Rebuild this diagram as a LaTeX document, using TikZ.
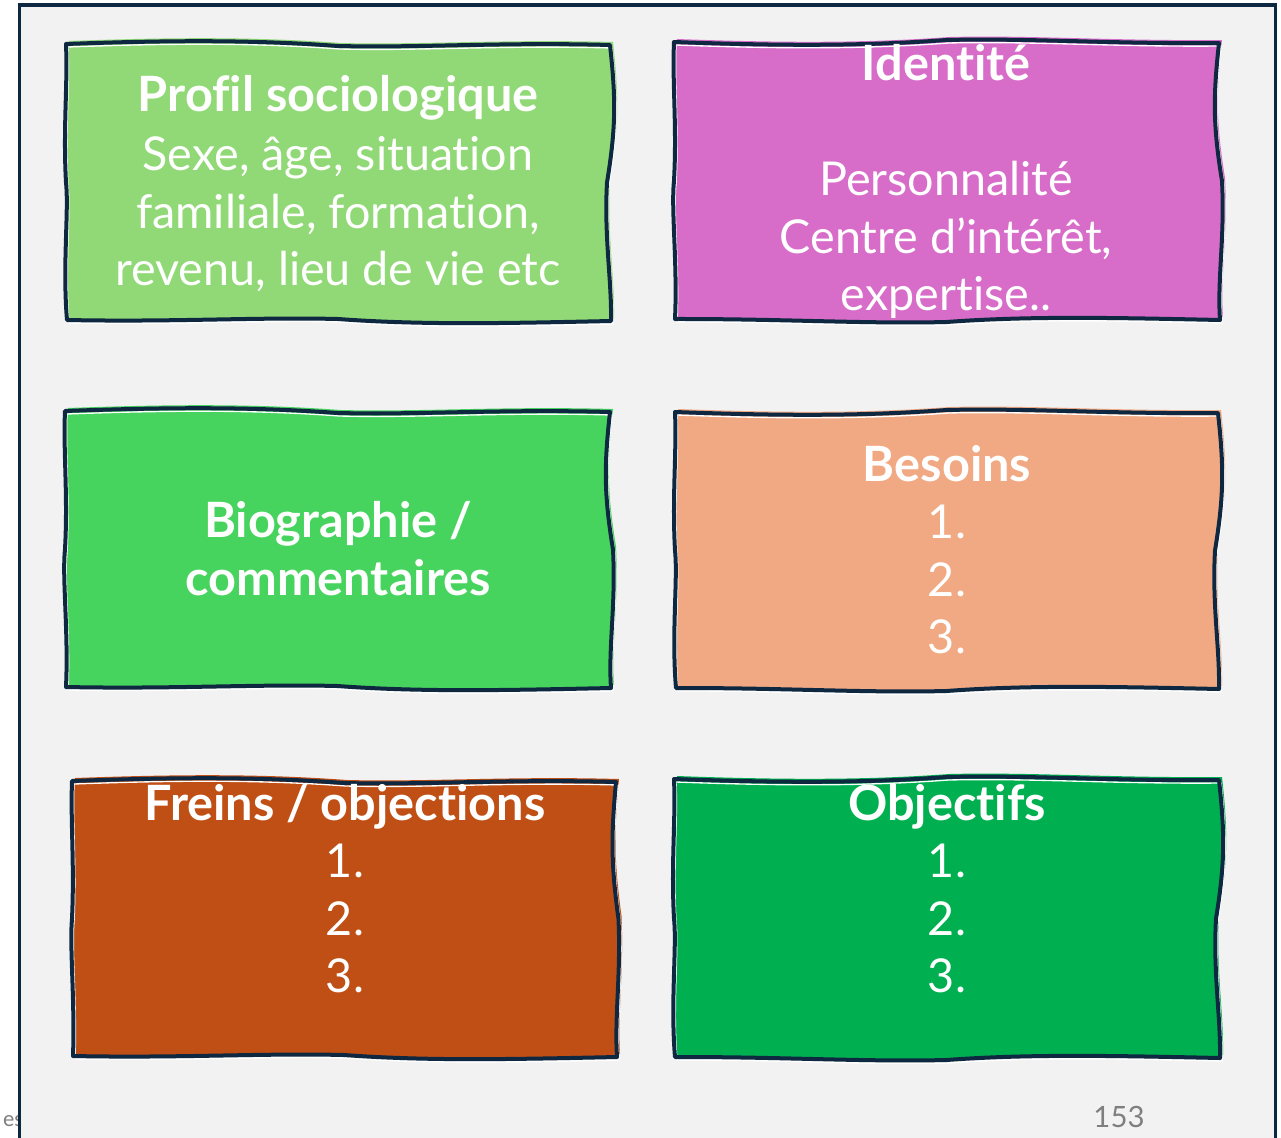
\documentclass[tikz,border=0pt]{standalone}
\usepackage{fontspec}
\setmainfont{Lato}[Ligatures=NoCommon]
\definecolor{navy}{HTML}{0E2841}
\definecolor{panelbg}{HTML}{F2F2F2}
\definecolor{cA}{HTML}{91D976}
\definecolor{cB}{HTML}{D76DC9}
\definecolor{cC}{HTML}{47D45E}
\definecolor{cD}{HTML}{F1A983}
\definecolor{cE}{HTML}{C04F15}
\definecolor{cF}{HTML}{00B050}
\definecolor{pgray}{HTML}{7F7F7F}
\tikzset{
  boxline/.style={draw=navy, line width=3pt, line join=round},
  ttl/.style={text=white, font=\fontsize{36.5}{40}\selectfont\bfseries, inner sep=0pt, anchor=base},
  txt/.style={text=white, font=\fontsize{35}{40}\selectfont, inner sep=0pt, anchor=base},
}
\newcommand\wprep[6]{% x1 y1 x2 y2 a b
  \pgfmathsetmacro\wW{#3-#1}\pgfmathsetmacro\wH{#4-#2}%
  \pgfmathsetmacro\xL{#1}\pgfmathsetmacro\xR{#3}\pgfmathsetmacro\yT{#2}\pgfmathsetmacro\yB{#4}%
  \pgfmathsetmacro\tA{#1+0.2*\wW}\pgfmathsetmacro\tB{#1+0.35*\wW}\pgfmathsetmacro\tM{#1+0.5*\wW}%
  \pgfmathsetmacro\tC{#1+0.65*\wW}\pgfmathsetmacro\tD{#1+0.8*\wW}%
  \pgfmathsetmacro\vA{#2+0.2*\wH}\pgfmathsetmacro\vB{#2+0.3*\wH}\pgfmathsetmacro\vM{#2+0.5*\wH}%
  \pgfmathsetmacro\vC{#2+0.7*\wH}\pgfmathsetmacro\vD{#2+0.85*\wH}\pgfmathsetmacro\vE{#2+0.15*\wH}%
  \pgfmathsetmacro\vF{#2+0.6*\wH}\pgfmathsetmacro\vG{#2+0.8*\wH}%
  \pgfmathsetmacro\yTa{#2-(#5)}\pgfmathsetmacro\yTb{#2+0.5*(#5)}\pgfmathsetmacro\yTc{#2+(#5)}\pgfmathsetmacro\yTd{#2-0.5*(#5)}\pgfmathsetmacro\yTe{#2+1}%
  \pgfmathsetmacro\yBa{#4+0.6*(#5)}\pgfmathsetmacro\yBb{#4+(#5)}\pgfmathsetmacro\yBc{#4-0.5*(#5)}\pgfmathsetmacro\yBd{#4-(#5)}\pgfmathsetmacro\yBe{#4+0.3*(#5)}\pgfmathsetmacro\yBf{#4-1}%
  \pgfmathsetmacro\xRa{#3+(#6)}\pgfmathsetmacro\xRb{#3-0.5*(#6)}\pgfmathsetmacro\xRc{#3-(#6)}\pgfmathsetmacro\xRd{#3+0.3*(#6)}\pgfmathsetmacro\xRe{#3+1}%
  \pgfmathsetmacro\xLa{#1-0.6*(#6)}\pgfmathsetmacro\xLb{#1+0.5*(#6)}\pgfmathsetmacro\xLc{#1-0.5*(#6)}\pgfmathsetmacro\xLd{#1+0.3*(#6)}\pgfmathsetmacro\xLe{#1+1}%
}
\def\wpath{(\xL,\yT) .. controls (\tA,\yTa) and (\tB,\yTa) .. (\tM,\yTb)
  .. controls (\tC,\yTc) and (\tD,\yTd) .. (\xR,\yTe)
  .. controls (\xRa,\vA) and (\xRa,\vB) .. (\xRb,\vM)
  .. controls (\xRc,\vC) and (\xRd,\vD) .. (\xRe,\yB)
  .. controls (\tD,\yBa) and (\tC,\yBb) .. (\tM,\yBc)
  .. controls (\tB,\yBd) and (\tA,\yBe) .. (\xLe,\yBf)
  .. controls (\xLa,\vG) and (\xLb,\vF) .. (\xL,\vM)
  .. controls (\xLc,\vB) and (\xLd,\vE) .. (\xL,\yT) -- cycle}
\newcommand\wbox[7]{% x1 y1 x2 y2 colour a b
  \wprep{#1}{#2}{#3}{#4}{#6}{#7}%
  \fill[#5, shift={(3,-3)}] \wpath;
  \fill[#5] \wpath;
  \draw[white, line width=1pt, shift={(2,3)}] \wpath;
  \draw[boxline] \wpath;
}
\begin{document}
\begin{tikzpicture}[x=0.75pt, y=-0.75pt]
\useasboundingbox (0,0) rectangle (1281,1138);
\clip (0,0) rectangle (1281,1138);
\fill[white] (0,0) rectangle (1281,1138);
\node[text=pgray, font=\fontsize{16}{18}\selectfont, anchor=base east, inner sep=0pt] (esnote) at (24,1126) {es};
\draw[fill=panelbg, draw=navy, line width=2.5pt] (19.5,5) rectangle (1275.5,1150);
% boxes
\wbox{66}{44}{610}{321}{cA}{4}{6}
\wbox{674}{42}{1219}{320}{cB}{-4}{-6}
\wbox{65}{411}{610}{688}{cC}{4}{-6}
\wbox{675}{412}{1218}{689}{cD}{-4}{6}
\wbox{72}{781}{616}{1057}{cE}{4}{-5}
\wbox{674}{779}{1219}{1058}{cF}{-4}{6}
% texts
\node[ttl] (p1) at (338,112) {Profil sociologique};
\node[txt] (p2) at (338,170) {Sexe, âge, situation};
\node[txt] (p3) at (338,228) {familiale, formation,};
\node[txt] (p4) at (338,285) {revenu, lieu de vie etc};
\node[ttl] (i1) at (946,80) {Identité};
\node[txt] (i2) at (946,195) {Personnalité};
\node[txt] (i3) at (946,253) {Centre d’intérêt,};
\node[txt] (i4) at (946,310) {expertise..};
\node[ttl] (b1) at (338,537) {Biographie /};
\node[ttl] (b2) at (338,595) {commentaires};
\node[ttl] (n1) at (947,481) {Besoins};
\node[txt] (n2) at (947,538) {1.};
\node[txt] (n3) at (947,596) {2.};
\node[txt] (n4) at (947,653) {3.};
\node[ttl] (f1) at (345,820) {Freins / objections};
\node[txt] (f2) at (345,877) {1.};
\node[txt] (f3) at (345,935) {2.};
\node[txt] (f4) at (345,992) {3.};
\node[ttl] (o1) at (947,820) {Objectifs};
\node[txt] (o2) at (947,877) {1.};
\node[txt] (o3) at (947,935) {2.};
\node[txt] (o4) at (947,992) {3.};
\node[text=pgray, font=\fontsize{22}{26}\selectfont, anchor=base, inner sep=0pt] (pnum) at (1119,1127) {153};
\end{tikzpicture}
\end{document}
